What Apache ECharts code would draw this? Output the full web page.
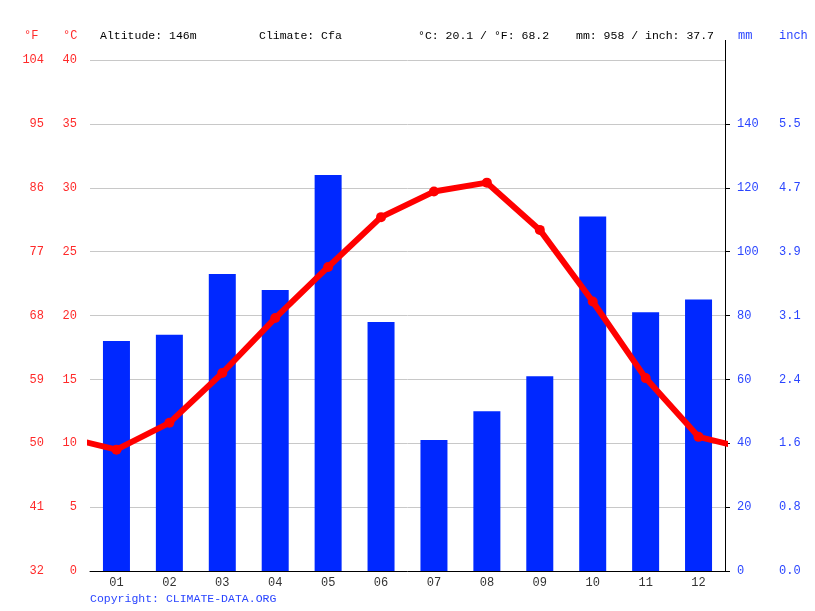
<!DOCTYPE html>
<html><head><meta charset="utf-8">
<script src="https://cdn.jsdelivr.net/npm/echarts@6/dist/echarts.min.js"></script>
<style>html,body{margin:0;padding:0;background:#fff}#c{width:815px;height:611px}</style>
</head><body><div id="c"></div>
<script>
const months = ['01','02','03','04','05','06','07','08','09','10','11','12'];
const precipitation = [72,74,93,88,124,78,41,50,61,111,81,85];
const temperature = [9.5,11.6,15.5,19.8,23.8,27.7,29.7,30.4,26.7,21.1,15.1,10.5];
const tempTicks = [0,5,10,15,20,25,30,35,40];
const precipTicks = [0,20,40,60,80,100,120,140];
const headerTexts = ['Altitude: 146m','Climate: Cfa','°C: 20.1 / °F: 68.2','mm: 958 / inch: 37.7'];

const FONT = '"Liberation Mono", monospace';
const RED = '#ff2a2a', BLUE = '#2a45ff', BAR = '#0028ff';

// line wraps around the year: December before January, January after December
const lineData = [[0, temperature[11]]]
  .concat(temperature.map((v, i) => [i + 1, v]))
  .concat([[13, temperature[0]]]);

const chart = echarts.init(document.getElementById('c'), null, {renderer: 'canvas'});
const hx = [100, 259, 418, 576];
chart.setOption({
  animation: false,
  backgroundColor: '#fff',
  grid: {left: 90, right: 90, top: 60, bottom: 40},
  xAxis: [{
    type: 'category', data: months, boundaryGap: true,
    axisLine: {lineStyle: {color: '#000', width: 1}},
    axisTick: {length: 5, lineStyle: {color: '#000'}},
    axisLabel: {color: '#333', fontFamily: FONT, fontSize: 12, margin: 6}
  }, {
    type: 'value', min: 0.5, max: 12.5, show: false
  }],
  yAxis: [{
    type: 'value', min: 0, max: 40, interval: 5, position: 'left',
    axisLine: {show: false}, axisTick: {show: false},
    splitLine: {lineStyle: {color: '#c8c8c8', width: 1}},
    axisLabel: {color: RED, fontFamily: FONT, fontSize: 12, margin: 13,
      customValues: tempTicks}
  }, {
    type: 'value', min: 0, max: 40, interval: 5, position: 'left',
    axisLine: {show: false}, axisTick: {show: false}, splitLine: {show: false},
    axisLabel: {color: RED, fontFamily: FONT, fontSize: 12, margin: 46,
      customValues: tempTicks,
      formatter: v => String(Math.round(v * 9 / 5 + 32))}
  }, {
    type: 'value', min: 0, max: 160, interval: 20, position: 'right',
    axisLine: {show: true, lineStyle: {color: '#000', width: 1}},
    axisTick: {show: true, length: 5, lineStyle: {color: '#000'}, customValues: precipTicks},
    splitLine: {show: false},
    axisLabel: {color: BLUE, fontFamily: FONT, fontSize: 12, margin: 12,
      customValues: precipTicks}
  }, {
    type: 'value', min: 0, max: 160, interval: 20, position: 'right',
    axisLine: {show: false}, axisTick: {show: false}, splitLine: {show: false},
    axisLabel: {color: BLUE, fontFamily: FONT, fontSize: 12, margin: 54,
      customValues: precipTicks,
      formatter: v => (v / 25.4).toFixed(1)}
  }],
  series: [{
    type: 'bar', data: precipitation, xAxisIndex: 0, yAxisIndex: 2,
    barWidth: 27, itemStyle: {color: BAR}, z: 2
  }, {
    type: 'line', data: lineData, xAxisIndex: 1, yAxisIndex: 0,
    clip: true, symbol: 'circle', symbolSize: 10,
    lineStyle: {color: '#ff0000', width: 6},
    itemStyle: {color: '#ff0000'}, z: 3
  }],
  graphic: [
    {type: 'line', shape: {x1: 725.5, y1: 40, x2: 725.5, y2: 60}, style: {stroke: '#000', lineWidth: 1}},
    {type: 'text', x: 24, y: 36, style: {text: '°F', fill: RED, font: '12px ' + FONT, verticalAlign: 'middle'}},
    {type: 'text', x: 63, y: 36, style: {text: '°C', fill: RED, font: '12px ' + FONT, verticalAlign: 'middle'}},
    {type: 'text', x: 738, y: 36, style: {text: 'mm', fill: BLUE, font: '12px ' + FONT, verticalAlign: 'middle'}},
    {type: 'text', x: 779, y: 36, style: {text: 'inch', fill: BLUE, font: '12px ' + FONT, verticalAlign: 'middle'}},
    ...headerTexts.map((t, i) => ({type: 'text', x: hx[i], y: 36,
      style: {text: t, fill: '#000', font: '11.5px ' + FONT, verticalAlign: 'middle'}})),
    {type: 'text', x: 90, y: 599, style: {text: 'Copyright: CLIMATE-DATA.ORG', fill: BLUE, font: '11.5px ' + FONT, verticalAlign: 'middle'}}
  ]
});
</script></body></html>
